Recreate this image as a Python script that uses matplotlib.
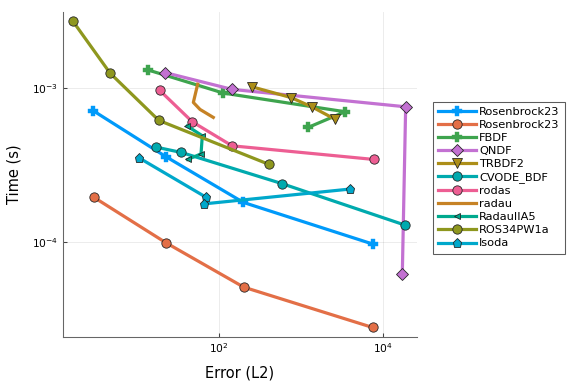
import matplotlib
matplotlib.use("Agg")
import matplotlib.pyplot as plt

# work-precision data: (error L2, time s) per solver
names = ["Rosenbrock23", "Rosenbrock23", "FBDF", "QNDF", "TRBDF2", "CVODE_BDF",
         "rodas", "radau", "RadauIIA5", "ROS34PW1a", "lsoda"]

err_ros23a = [2.93, 22.6, 198, 7550]
time_ros23a = [7.12e-4, 3.58e-4, 1.81e-4, 9.70e-5]
err_ros23b = [2.99, 22.6, 200, 7480]
time_ros23b = [1.95e-4, 9.89e-5, 5.10e-5, 2.79e-5]
err_fbdf = [13.7, 113, 3440, 1227]
time_fbdf = [1.31e-3, 9.28e-4, 7.02e-4, 5.56e-4]
err_qndf = [22.1, 144, 18900, 17200]
time_qndf = [1.26e-3, 9.81e-4, 7.56e-4, 6.19e-5]
err_trbdf2 = [251, 755, 1374, 2575]
time_trbdf2 = [1.02e-3, 8.68e-4, 7.53e-4, 6.29e-4]
err_cvode = [16.9, 34.7, 582, 18500]
time_cvode = [4.14e-4, 3.82e-4, 2.40e-4, 1.29e-4]
err_rodas = [18.9, 47.2, 144, 7760]
time_rodas = [9.66e-4, 6.04e-4, 4.22e-4, 3.44e-4]
err_radau = [54.9, 48.6, 58.6, 85.1]
time_radau = [1.06e-3, 8.07e-4, 7.27e-4, 6.45e-4]
err_radauiia5 = [41.0, 62.5, 60.3, 41.5]
time_radauiia5 = [5.67e-4, 4.90e-4, 3.74e-4, 3.44e-4]
err_ros34 = [1.64, 4.69, 18.4, 404]
time_ros34 = [2.73e-3, 1.25e-3, 6.17e-4, 3.20e-4]
err_lsoda = [10.6, 68.9, 65.0, 3960]
time_lsoda = [3.52e-4, 1.96e-4, 1.77e-4, 2.21e-4]

errs = [err_ros23a, err_ros23b, err_fbdf, err_qndf, err_trbdf2, err_cvode,
        err_rodas, err_radau, err_radauiia5, err_ros34, err_lsoda]
times = [time_ros23a, time_ros23b, time_fbdf, time_qndf, time_trbdf2, time_cvode,
         time_rodas, time_radau, time_radauiia5, time_ros34, time_lsoda]

colors = ["#009AFA", "#E36F47", "#3EA44E", "#C371D2", "#AC8E18", "#00AAAE",
          "#ED5E93", "#C68225", "#00A98D", "#8E971E", "#00A8CB"]
markers = ["P", "o", "P", "D", "v", "o", "o", None, "<", "o", "p"]
msizes = [7, 7, 7, 6, 8, 7, 7, 0, 5, 7, 7]

fig = plt.figure(figsize=(6, 4), dpi=96)
ax = fig.add_axes([0.1094, 0.1224, 0.6146, 0.8464])

for e, t, name, c, m, ms in zip(errs, times, names, colors, markers, msizes):
    if m == "P":
        ax.plot(e, t, color=c, lw=2.4, marker=m, ms=ms, mec=c, mew=0.3, label=name)
    elif m is None:
        ax.plot(e, t, color=c, lw=2.4, label=name)
    else:
        ax.plot(e, t, color=c, lw=2.4, marker=m, ms=ms, mec="#222222", mew=0.6, label=name)

ax.set_xscale("log")
ax.set_yscale("log")
ax.set_xlim(1.25, 26000)
ax.set_ylim(2.42e-5, 3.12e-3)
ax.set_xticks([1e2, 1e4])
ax.set_yticks([1e-4, 1e-3])
ax.minorticks_off()
ax.tick_params(direction="in", length=3, labelsize=8, color="#444444")
ax.grid(True, color="#000000", alpha=0.08, lw=0.7)
for s in ["top", "right"]:
    ax.spines[s].set_visible(False)
for s in ["left", "bottom"]:
    ax.spines[s].set_color("#666666")

ax.set_xlabel("Error (L2)", fontsize=11, labelpad=7.5)
ax.set_ylabel("Time (s)", fontsize=11, labelpad=8)

leg = ax.legend(loc="center left", bbox_to_anchor=(1.03, 0.49), fontsize=8.5,
                frameon=True, fancybox=False, handlelength=3.3,
                labelspacing=0.27, borderpad=0.45, handletextpad=0.3)
leg.get_frame().set_edgecolor("#333333")
leg.get_frame().set_linewidth(0.8)

fig.savefig("out.png", dpi=96)
